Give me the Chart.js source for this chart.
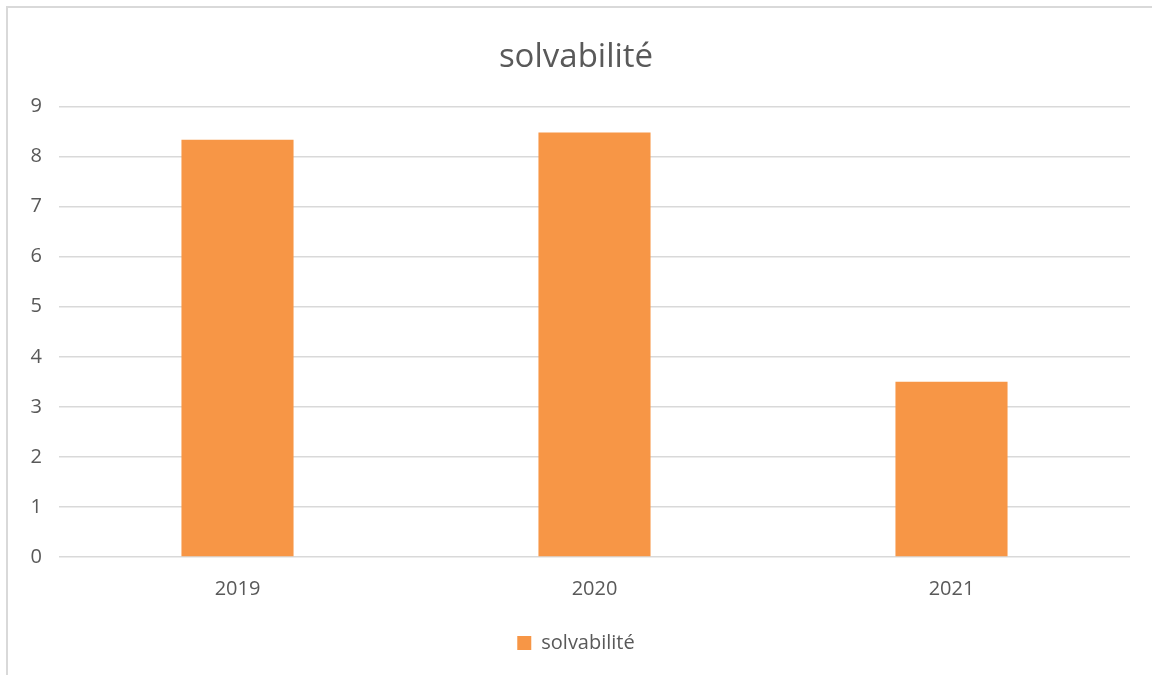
<!DOCTYPE html>
<html>
<head>
<meta charset="utf-8">
<script src="https://cdn.jsdelivr.net/npm/chart.js@4.4.0/dist/chart.umd.min.js"></script>
<style>
  html, body { margin: 0; padding: 0; background: #fff; overflow: hidden; }
  #frame { position: absolute; left: 6px; top: 6px; width: 1160px; height: 690px; border: 2px solid #d9d9d9; box-sizing: border-box; }
  #wrap { position: absolute; left: 0; top: 0; width: 1152px; height: 675px; }
</style>
</head>
<body>
<div id="frame"></div>
<div id="wrap"><canvas id="solvChart" width="1152" height="675"></canvas></div>
<script>
const years = ["2019", "2020", "2021"];
const solvabilite = [8.34, 8.48, 3.5];
const yTicks = [0, 1, 2, 3, 4, 5, 6, 7, 8, 9];

const textColor = "#595959";
const fontFamily = "'Open Sans', sans-serif";

const ctx = document.getElementById("solvChart").getContext("2d");
new Chart(ctx, {
  type: "bar",
  data: {
    labels: years,
    datasets: [
      {
        label: "solvabilité",
        data: solvabilite,
        backgroundColor: "#F79646",
        categoryPercentage: 1,
        barPercentage: 0.314,
      },
    ],
  },
  options: {
    responsive: false,
    animation: false,
    layout: { padding: { left: 22, right: 22, top: 38, bottom: 12 } },
    plugins: {
      title: {
        display: true,
        text: "solvabilité",
        color: textColor,
        font: { family: fontFamily, size: 33, weight: "normal" },
        padding: { top: 0, bottom: 29 },
      },
      legend: {
        position: "bottom",
        labels: {
          color: textColor,
          font: { family: fontFamily, size: 20 },
          boxWidth: 14,
          boxHeight: 14,
          padding: 20,
        },
      },
      tooltip: { enabled: false },
    },
    scales: {
      x: {
        grid: { display: false },
        border: { display: false },
        ticks: { color: textColor, font: { family: fontFamily, size: 20 }, padding: 12 },
      },
      y: {
        min: 0,
        max: 9,
        afterBuildTicks: (axis) => { axis.ticks = yTicks.map((v) => ({ value: v })); },
        afterFit: (axis) => { axis.width = 37; },
        grid: { color: "#d9d9d9", lineWidth: 1.5, drawTicks: false },
        border: { display: false },
        ticks: { color: textColor, font: { family: fontFamily, size: 20 }, padding: 17 },
      },
    },
  },
});
</script>
</body>
</html>
